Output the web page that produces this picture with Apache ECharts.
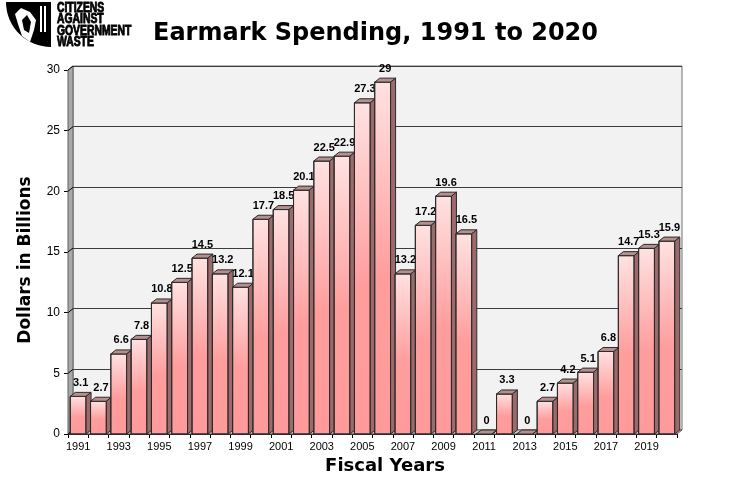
<!DOCTYPE html>
<html>
<head>
<meta charset="utf-8">
<title>Earmark Spending</title>
<script src="https://cdn.jsdelivr.net/npm/echarts@6/dist/echarts.min.js"></script>
<style>
html,body{margin:0;padding:0;background:#fff;}
#main{width:732px;height:491px;}
</style>
</head>
<body>
<div id="main"></div>
<script>
// data
var years = ['1991','1992','1993','1994','1995','1996','1997','1998','1999','2000',
	'2001','2002','2003','2004','2005','2006','2007','2008','2009','2010',
	'2011','2012','2013','2014','2015','2016','2017','2018','2019','2020'];
var spending = [3.1,2.7,6.6,7.8,10.8,12.5,14.5,13.2,12.1,17.7,
	18.5,20.1,22.5,22.9,27.3,29,13.2,17.2,19.6,16.5,
	0,3.3,0,2.7,4.2,5.1,6.8,14.7,15.3,15.9];
var yTicks = [0,5,10,15,20,25,30];
var logoLines = ['CITIZENS','AGAINST','GOVERNMENT','WASTE'];

var DX = 5, DY = 4; //3d depth

var chart = echarts.init(document.getElementById('main'));

function renderBar(params, api){
	var val = api.value(1);
	var top = api.coord([api.value(0), val]);
	var base = api.coord([api.value(0), 0]);
	var w = api.size([1, 0])[0] * 0.78;
	var x0 = top[0] - w / 2, x1 = top[0] + w / 2;
	var ty = top[1], by = base[1];
	return {
		type: 'group',
		children: [
			{
				type: 'rect',
				shape: {x: x0, y: ty, width: w, height: by - ty},
				style: {
					fill: new echarts.graphic.LinearGradient(0, 0, 0, 1, [
						{offset: 0, color: '#ffe2e2'},
						{offset: 0.55, color: '#ff9d9d'},
						{offset: 1, color: '#ff9a9a'}
					]),
					stroke: '#2a2a2a', lineWidth: 1
				}
			},
			{
				type: 'polygon',
				shape: {points: [[x0, ty], [x0 + DX, ty - DY], [x1 + DX, ty - DY], [x1, ty]]},
				style: {fill: '#b58e8e', stroke: '#2a2a2a', lineWidth: 1}
			},
			{
				type: 'polygon',
				shape: {points: [[x1, ty], [x1 + DX, ty - DY], [x1 + DX, by - DY], [x1, by]]},
				style: {fill: '#9c6a6a', stroke: '#2a2a2a', lineWidth: 1}
			},
			{
				type: 'text',
				style: {
					text: String(val),
					x: top[0] + DX / 2,
					y: ty - DY - 4,
					align: 'center',
					verticalAlign: 'bottom',
					fontFamily: 'Liberation Sans, Arial, sans-serif',
					fontWeight: 'bold',
					fontSize: 11,
					fill: '#000'
				}
			}
		]
	};
}

var option = {
	animation: false,
	title: {
		text: 'Earmark Spending, 1991 to 2020',
		left: 148,
		top: 17,
		textStyle: {
			fontFamily: 'DejaVu Sans',
			fontWeight: 'bold',
			fontSize: 24,
			color: '#000'
		}
	},
	grid: [
		{left: 68, right: 55, top: 70, bottom: 57},
		{left: 73, right: 50, top: 66, bottom: 61, show: true,
			backgroundColor: '#f2f2f2', borderColor: '#707070', borderWidth: 1, z: 0}
	],
	xAxis: [
		{
			type: 'category',
			gridIndex: 0,
			data: years,
			boundaryGap: true,
			axisLine: {lineStyle: {color: '#000', width: 1}},
			axisTick: {show: true, interval: 0, length: 4, lineStyle: {color: '#000'}},
			axisLabel: {
				interval: 1,
				margin: 7,
				fontFamily: 'Liberation Sans, Arial, sans-serif',
				fontSize: 11,
				color: '#000'
			}
		},
		{
			type: 'category',
			gridIndex: 1,
			data: years,
			show: false
		}
	],
	yAxis: [
		{
			type: 'value',
			gridIndex: 0,
			min: 0,
			max: 30,
			interval: 5,
			axisLine: {show: true, lineStyle: {color: '#000', width: 1}},
			axisTick: {show: true, length: 4, lineStyle: {color: '#000'}},
			splitLine: {show: false},
			axisLabel: {
				margin: 8,
				fontFamily: 'Liberation Sans, Arial, sans-serif',
				fontSize: 12,
				color: '#000'
			}
		},
		{
			type: 'value',
			gridIndex: 1,
			min: 0,
			max: 30,
			interval: 5,
			axisLine: {show: false},
			axisTick: {show: false},
			axisLabel: {show: false},
			splitLine: {show: true, lineStyle: {color: '#3c3c3c', width: 1}}
		}
	],
	series: [
		{
			name: 'Earmarks',
			type: 'custom',
			xAxisIndex: 0,
			yAxisIndex: 0,
			renderItem: renderBar,
			data: years.map(function(y, i){ return [i, spending[i]]; }),
			z: 5
		}
	]
};
chart.setOption(option);

// side wall, floor, axis names and logo
function decorations(){
	var gx = chart.getModel().getComponent('grid', 0).coordinateSystem.getRect();
	var left = gx.x, right = gx.x + gx.width, bottom = gx.y + gx.height, topY = gx.y;
	var els = [];
	els.push({
		type: 'polygon', z: 1,
		shape: {points: [[left, topY], [left + DX, topY - DY], [left + DX, bottom - DY], [left, bottom]]},
		style: {fill: '#a9a9a9', stroke: '#606060', lineWidth: 1}
	});
	els.push({
		type: 'polygon', z: 1,
		shape: {points: [[left, bottom], [left + DX, bottom - DY], [right + DX, bottom - DY], [right, bottom]]},
		style: {fill: '#c8c8c8', stroke: '#606060', lineWidth: 1}
	});
	for (var i = 0; i < yTicks.length; i++){
		var yy = chart.convertToPixel({yAxisIndex: 0}, yTicks[i]);
		els.push({
			type: 'line', z: 2,
			shape: {x1: left, y1: yy, x2: left + DX, y2: yy - DY},
			style: {stroke: '#000', lineWidth: 1}
		});
	}
	// axis names
	els.push({
		type: 'text', z: 3,
		x: 385, y: 466,
		style: {
			text: 'Fiscal Years', align: 'center', verticalAlign: 'middle',
			fontFamily: 'DejaVu Sans', fontWeight: 'bold', fontSize: 18, fill: '#000'
		}
	});
	els.push({
		type: 'text', z: 3,
		x: 26, y: 260, rotation: Math.PI / 2,
		style: {
			text: 'Dollars in Billions', align: 'center', verticalAlign: 'middle',
			fontFamily: 'DejaVu Sans', fontWeight: 'bold', fontSize: 17, fill: '#000'
		}
	});
	// logo
	els.push({
		type: 'sector', z: 3,
		shape: {cx: 51, cy: 2, r0: 0, r: 45, startAngle: Math.PI / 2, endAngle: Math.PI},
		style: {fill: '#000'}
	});
	els.push({type: 'rect', z: 4, shape: {x: 40, y: 6, width: 2, height: 26}, style: {fill: '#fff'}});
	els.push({type: 'rect', z: 4, shape: {x: 44, y: 6, width: 2, height: 26}, style: {fill: '#fff'}});
	els.push({
		type: 'polygon', z: 4,
		shape: {points: [[15, 14], [21, 8], [30, 12], [36, 20], [34, 30], [30, 42], [22, 36], [18, 24]]},
		style: {fill: '#fff'}
	});
	els.push({
		type: 'polygon', z: 5,
		shape: {points: [[22, 20], [27, 15], [31, 22], [29, 33], [24, 30]]},
		style: {fill: '#000'}
	});
	for (var j = 0; j < logoLines.length; j++){
		els.push({
			type: 'text', z: 4,
			x: 57, y: 1 + j * 11.4,
			scaleX: 0.74,
			style: {
				text: logoLines[j],
				x: 0, y: 0,
				verticalAlign: 'top',
				fontFamily: 'Liberation Sans, Arial',
				fontWeight: 'bold',
				fontSize: 14,
				fill: '#000',
				stroke: '#000',
				lineWidth: 0.9
			}
		});
	}
	chart.setOption({graphic: els});
}
decorations();
</script>
</body>
</html>
